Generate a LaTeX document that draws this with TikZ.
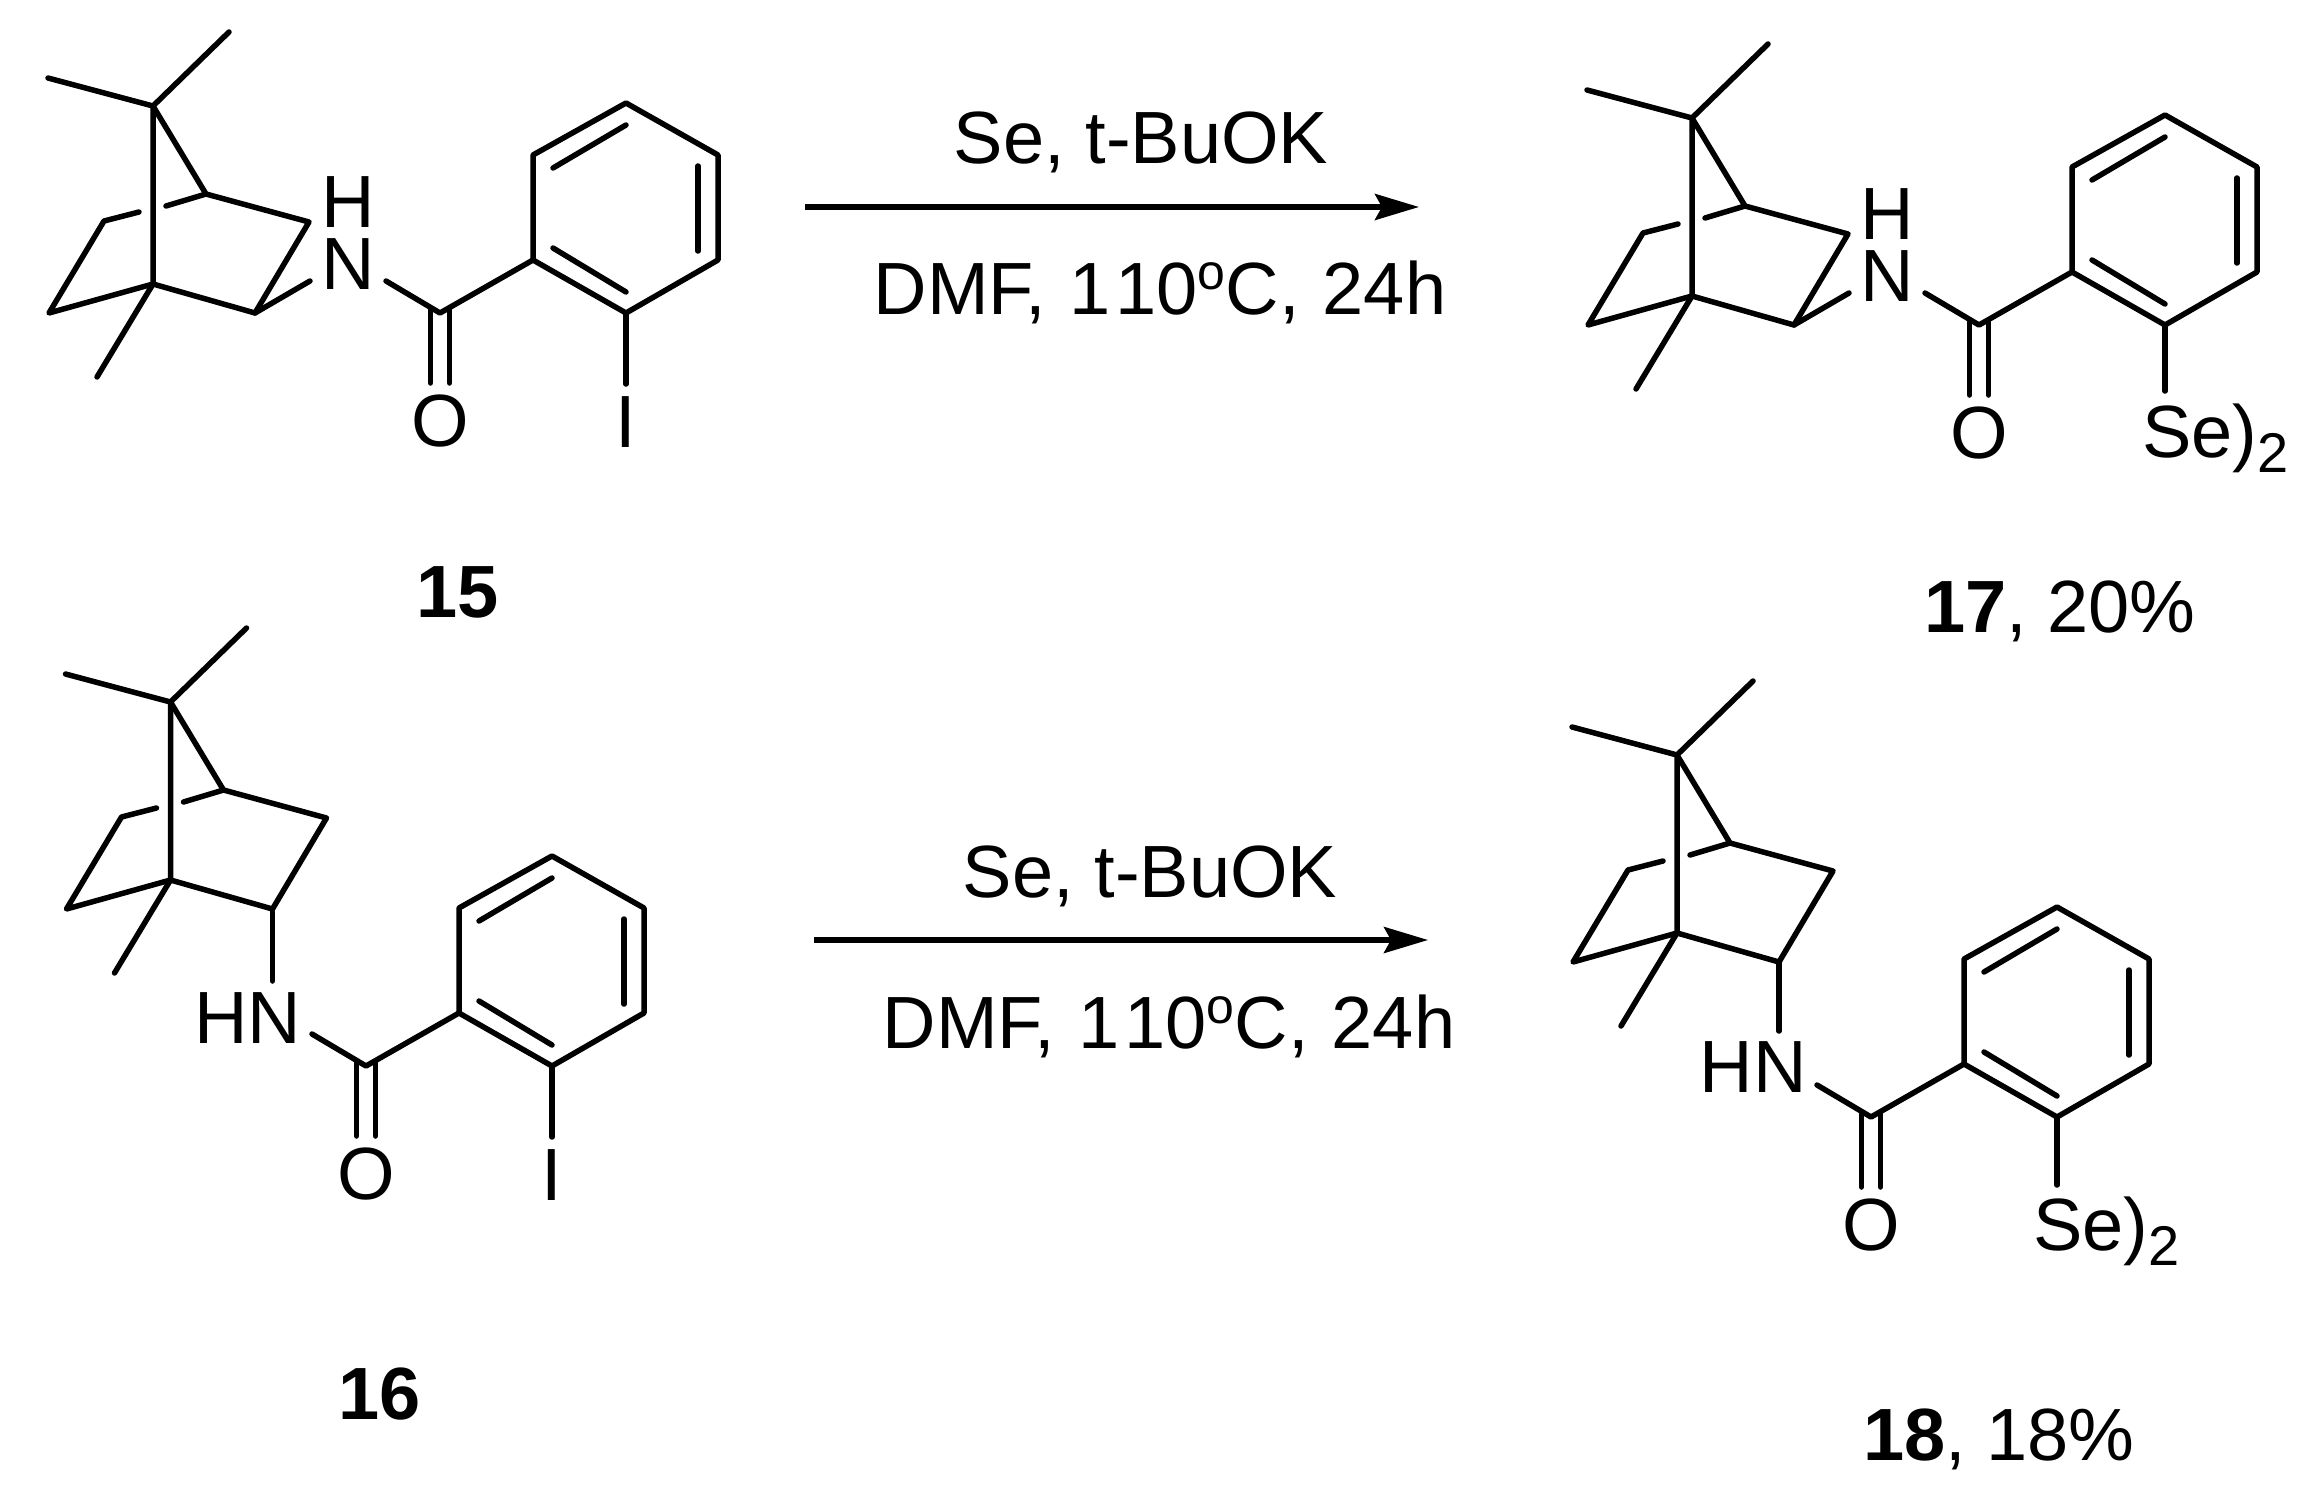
\documentclass[tikz,border=0pt]{standalone}
\usepackage{fontspec}
\setmainfont{Liberation Sans}
\usetikzlibrary{arrows.meta,calc}
\newcommand{\chemfont}{\fontsize{74pt}{82pt}\selectfont}
\newcommand{\subfont}{\fontsize{56pt}{60pt}\selectfont}
\newcommand{\dego}{\raisebox{25pt}{\fontsize{50pt}{54pt}\selectfont o}}
\newcommand{\condtext}{DMF,\hspace{2.5pt} 1\kern5pt 10\dego C,\hspace{2.5pt} 24h}
\tikzset{
  x=1pt,y=-1pt,
  bond/.style={line width=5.5pt,line cap=round,line join=round,draw=black},
  atom/.style={inner sep=0pt,outer sep=0pt,font=\chemfont,text=black,anchor=base},
  rxnarrow/.style={line width=5.5pt,draw=black,-{Stealth[length=44pt,width=26pt,inset=7pt]}},
  pics/bicycle/.style={code={
    \coordinate (-c7) at (153,106);
    \coordinate (-me1) at (229,32);
    \coordinate (-me2) at (48,78);
    \coordinate (-c1) at (153,284);
    \coordinate (-me3) at (97,377);
    \coordinate (-c4) at (206,194);
    \coordinate (-c3) at (309,222);
    \coordinate (-c2) at (255,313);
    \coordinate (-c5) at (104,221);
    \coordinate (-c6) at (49,313);
    \coordinate (-b1) at (139,212);
    \coordinate (-b2) at (166,206);
    \draw[bond] (-me1) -- (-c7) -- (-me2);
    \draw[bond] (-c7) -- (-c1) -- (-me3);
    \draw[bond] (-c7) -- (-c4) -- (-c3) -- (-c2) -- (-c1) -- (-c6) -- (-c5) -- (-b1);
    \draw[bond] (-c4) -- (-b2);
  }},
  pics/aryl/.style={code={
    \coordinate (-nb) at (386,281);
    \coordinate (-c) at (440,313);
    \coordinate (-r1) at (533,260);
    \coordinate (-r2) at (533,155);
    \coordinate (-r3) at (626,103);
    \coordinate (-r4) at (718,155);
    \coordinate (-r5) at (718,260);
    \coordinate (-r6) at (626,313);
    \coordinate (-d1a) at (553,168);
    \coordinate (-d1b) at (626,125);
    \coordinate (-d2a) at (698,166);
    \coordinate (-d2b) at (698,251);
    \coordinate (-d3a) at (553,248);
    \coordinate (-d3b) at (626,292);
    \coordinate (-o1a) at (430.5,310);
    \coordinate (-o1b) at (430.5,383);
    \coordinate (-o2a) at (449.5,310);
    \coordinate (-o2b) at (449.5,383);
    \node[atom] (-o) at (440,446) {O};
    \draw[bond] (-nb) -- (-c) -- (-r1);
    \draw[bond] (-r1) -- (-r2) -- (-r3) -- (-r4) -- (-r5) -- (-r6) -- cycle;
    \draw[bond] (-d1a) -- (-d1b);
    \draw[bond] (-d2a) -- (-d2b);
    \draw[bond] (-d3a) -- (-d3b);
    \draw[bond] (-o1a) -- (-o1b);
    \draw[bond] (-o2a) -- (-o2b);
  }},
}
\begin{document}
\begin{tikzpicture}
\useasboundingbox (0,0) rectangle (2307,1498);
\fill[white] (0,0) rectangle (2307,1498);

% ---- 15
\pic (a) at (0,0) {bicycle};
\pic (p) at (0,0) {aryl};
\node[atom] (an) at (348,289) {N};
\node[atom] (ah) at (348,228) {H};
\coordinate (anb) at (310,281);
\draw[bond] (a-c2) -- (anb);
\coordinate (aib) at (626,384);
\draw[bond] (p-r6) -- (aib);
\node[atom] (ai) at (626,447) {I};
\node[atom] (l15) at (458,617) {\bfseries 15};

% ---- 17
\pic (b) at (1539,12) {bicycle};
\pic (q) at (1539,12) {aryl};
\node[atom] (bn) at (1887,301) {N};
\node[atom] (bh) at (1887,240) {H};
\coordinate (bnb) at (1849,293);
\draw[bond] (b-c2) -- (bnb);
\coordinate (bsb) at (2165,391);
\draw[bond] (q-r6) -- (bsb);
\node[atom,anchor=base west] (bse) at (2142,457) {Se)\raisebox{-15pt}{\subfont 2}};
\node[atom] (l17) at (2060,632) {\textbf{17}, 20\%};

% ---- 16
\pic (c) at (17.5,596) {bicycle};
\pic (r) at (-74,753) {aryl};
\node[atom] (chn) at (248,1043) {HN};
\coordinate (cnb) at (272.5,981);
\draw[bond] (c-c2) -- (cnb);
\coordinate (cib) at (552,1137);
\draw[bond] (r-r6) -- (cib);
\node[atom] (ci) at (552,1200) {I};
\node[atom] (l16) at (380,1419) {\bfseries 16};

% ---- 18
\pic (d) at (1524,649) {bicycle};
\pic (s) at (1431,804) {aryl};
\node[atom] (dhn) at (1753,1092) {HN};
\coordinate (dnb) at (1779,1031);
\draw[bond] (d-c2) -- (dnb);
\coordinate (dsb) at (2057,1185);
\draw[bond] (s-r6) -- (dsb);
\node[atom,anchor=base west] (dse) at (2033,1250) {Se)\raisebox{-15pt}{\subfont 2}};
\node[atom] (l18) at (1999,1460) {\textbf{18}, 18\%};

% ---- arrows
\coordinate (ar1s) at (805,207);
\coordinate (ar1e) at (1419,207);
\draw[rxnarrow] (ar1s) -- (ar1e);
\node[atom] (t1a) at (1141,164) {Se, t-BuOK};
\node[atom] (t1b) at (1160,314) {\condtext};
\coordinate (ar2s) at (814,940);
\coordinate (ar2e) at (1428,940);
\draw[rxnarrow] (ar2s) -- (ar2e);
\node[atom] (t2a) at (1150,897) {Se, t-BuOK};
\node[atom] (t2b) at (1169,1048) {\condtext};
\end{tikzpicture}
\end{document}
